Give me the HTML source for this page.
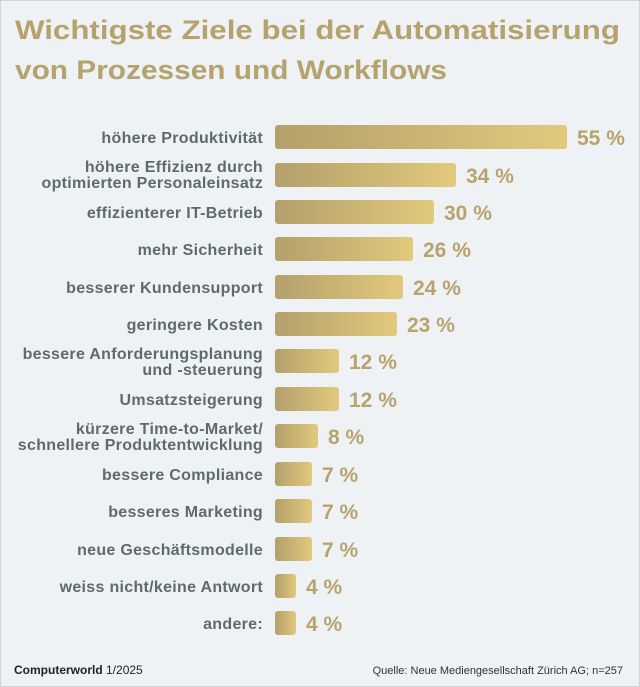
<!DOCTYPE html>
<html><head><meta charset="utf-8"><style>
html,body{margin:0;padding:0;background:#eef2f5;}
svg{display:block;font-family:"Liberation Sans",sans-serif;}
.l{font-size:16px;font-weight:bold;fill:#5f6a6d;text-anchor:end;letter-spacing:0.3px;}
.v{font-size:21px;font-weight:bold;fill:#b8a36e;}
</style></head><body>
<svg width="640" height="687" viewBox="0 0 640 687">
<defs><linearGradient id="g" x1="0" x2="1" y1="0" y2="0"><stop offset="0" stop-color="#b3a06b"/><stop offset="1" stop-color="#e2c97c"/></linearGradient></defs>
<rect x="0.5" y="0.5" width="639" height="686" fill="#eef2f5" stroke="#cfd4d8"/>
<text x="15" y="39" font-size="27" font-weight="bold" fill="#b5a26c" textLength="605" lengthAdjust="spacingAndGlyphs">Wichtigste Ziele bei der Automatisierung</text>
<text x="15" y="79" font-size="27" font-weight="bold" fill="#b5a26c" textLength="432" lengthAdjust="spacingAndGlyphs">von Prozessen und Workflows</text>
<g>
<rect x="275" y="125" width="292" height="24" rx="3" fill="url(#g)"/><text class="l" x="263" y="143">höhere Produktivität</text><text class="v" x="577" y="145">55 %</text>
<rect x="275" y="163" width="181" height="24" rx="3" fill="url(#g)"/><text class="l" x="263" y="172">höhere Effizienz durch</text><text class="l" x="263" y="188">optimierten Personaleinsatz</text><text class="v" x="466" y="183">34 %</text>
<rect x="275" y="200" width="159" height="24" rx="3" fill="url(#g)"/><text class="l" x="263" y="218">effizienterer IT-Betrieb</text><text class="v" x="444" y="220">30 %</text>
<rect x="275" y="237" width="138" height="24" rx="3" fill="url(#g)"/><text class="l" x="263" y="255">mehr Sicherheit</text><text class="v" x="423" y="257">26 %</text>
<rect x="275" y="275" width="128" height="24" rx="3" fill="url(#g)"/><text class="l" x="263" y="293">besserer Kundensupport</text><text class="v" x="413" y="295">24 %</text>
<rect x="275" y="312" width="122" height="24" rx="3" fill="url(#g)"/><text class="l" x="263" y="330">geringere Kosten</text><text class="v" x="407" y="332">23 %</text>
<rect x="275" y="349" width="64" height="24" rx="3" fill="url(#g)"/><text class="l" x="263" y="359">bessere Anforderungsplanung</text><text class="l" x="263" y="375">und -steuerung</text><text class="v" x="349" y="369">12 %</text>
<rect x="275" y="387" width="64" height="24" rx="3" fill="url(#g)"/><text class="l" x="263" y="405">Umsatzsteigerung</text><text class="v" x="349" y="407">12 %</text>
<rect x="275" y="424" width="43" height="24" rx="3" fill="url(#g)"/><text class="l" x="263" y="434">kürzere Time-to-Market/</text><text class="l" x="263" y="450">schnellere Produktentwicklung</text><text class="v" x="328" y="444">8 %</text>
<rect x="275" y="462" width="37" height="24" rx="3" fill="url(#g)"/><text class="l" x="263" y="480">bessere Compliance</text><text class="v" x="322" y="482">7 %</text>
<rect x="275" y="499" width="37" height="24" rx="3" fill="url(#g)"/><text class="l" x="263" y="517">besseres Marketing</text><text class="v" x="322" y="519">7 %</text>
<rect x="275" y="537" width="37" height="24" rx="3" fill="url(#g)"/><text class="l" x="263" y="555">neue Geschäftsmodelle</text><text class="v" x="322" y="557">7 %</text>
<rect x="275" y="574" width="21" height="24" rx="3" fill="url(#g)"/><text class="l" x="263" y="592">weiss nicht/keine Antwort</text><text class="v" x="306" y="594">4 %</text>
<rect x="275" y="611" width="21" height="24" rx="3" fill="url(#g)"/><text class="l" x="263" y="629">andere:</text><text class="v" x="306" y="631">4 %</text>
</g>
<text x="14" y="674" font-size="12" fill="#222"><tspan font-weight="bold">Computerworld</tspan> 1/2025</text>
<text x="623" y="674" font-size="11" fill="#333" text-anchor="end">Quelle: Neue Mediengesellschaft Zürich AG; n=257</text>
</svg>
</body></html>
